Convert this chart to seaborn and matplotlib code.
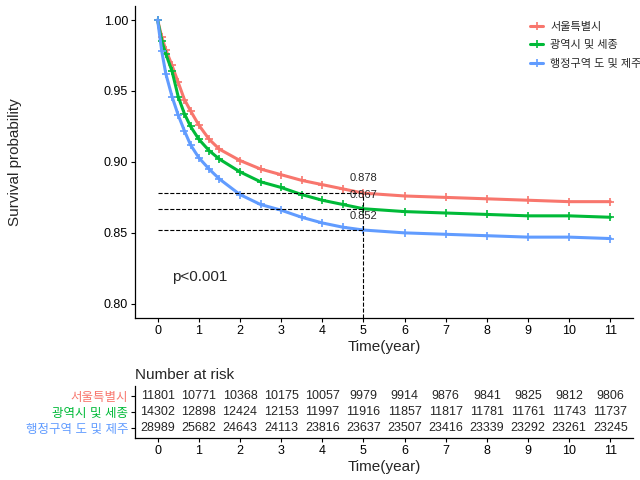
import numpy as np
import pandas as pd
import seaborn as sns
from matplotlib import pyplot as plt

GROUPS = ["서울특별시", "광역시 및 세종", "행정구역 도 및 제주"]
COLORS = ["#F8766D", "#00BA38", "#619CFF"]

# survival curve (time in years)
TIMES = [0, 0.1, 0.2, 0.35, 0.5, 0.65, 0.8, 1, 1.25, 1.5, 2, 2.5, 3, 3.5, 4, 4.5,
         5, 6, 7, 8, 9, 10, 11]
SURV_SEOUL = [1.0, 0.988, 0.979, 0.968, 0.956, 0.944, 0.936, 0.926, 0.916, 0.909,
              0.901, 0.895, 0.891, 0.887, 0.884, 0.881, 0.878, 0.876, 0.875, 0.874,
              0.873, 0.872, 0.872]
SURV_METRO = [1.0, 0.985, 0.976, 0.964, 0.946, 0.934, 0.925, 0.916, 0.908, 0.902,
              0.893, 0.886, 0.882, 0.877, 0.873, 0.870, 0.867, 0.865, 0.864, 0.863,
              0.862, 0.862, 0.861]
SURV_PROV = [1.0, 0.978, 0.962, 0.946, 0.933, 0.922, 0.912, 0.903, 0.895, 0.888,
             0.877, 0.870, 0.866, 0.861, 0.857, 0.854, 0.852, 0.850, 0.849, 0.848,
             0.847, 0.847, 0.846]

FIVE_YEAR = [0.878, 0.867, 0.852]

RISK_TIMES = list(range(12))
RISK_SEOUL = [11801, 10771, 10368, 10175, 10057, 9979, 9914, 9876, 9841, 9825, 9812, 9806]
RISK_METRO = [14302, 12898, 12424, 12153, 11997, 11916, 11857, 11817, 11781, 11761, 11743, 11737]
RISK_PROV = [28989, 25682, 24643, 24113, 23816, 23637, 23507, 23416, 23339, 23292, 23261, 23245]


def style_axis(ax) -> None:
    ax.tick_params(labelsize=9, length=3, width=0.8, colors="black", pad=2)
    for side in ["top", "right"]:
        ax.spines[side].set_visible(False)
    for side in ["left", "bottom"]:
        ax.spines[side].set_color("black")
        ax.spines[side].set_linewidth(0.9)


def main() -> None:
    sns.set_theme(style="ticks")
    plt.rcParams["font.family"] = ["Liberation Sans", "Noto Sans CJK KR"]
    plt.rcParams["axes.unicode_minus"] = False

    curves = pd.concat(
        [
            pd.DataFrame({"time": TIMES, "surv": s, "group": g})
            for g, s in zip(GROUPS, [SURV_SEOUL, SURV_METRO, SURV_PROV])
        ]
    )

    fig = plt.figure(figsize=(6.4, 4.8), dpi=100)
    ax = fig.add_axes([135 / 640, 1 - 318 / 480, 498 / 640, 312 / 480])
    sns.lineplot(
        data=curves, x="time", y="surv", hue="group", hue_order=GROUPS,
        palette=COLORS, linewidth=2.2, marker="+", markersize=5.5,
        markeredgewidth=1.2, ax=ax,
    )
    for line in ax.lines:
        line.set_markeredgecolor(line.get_color())

    for v in FIVE_YEAR:
        ax.plot([0, 5], [v, v], color="black", linestyle="--", linewidth=0.8)
    ax.plot([5, 5], [0.79, FIVE_YEAR[0]], color="black", linestyle="--", linewidth=0.8)
    for v, dy in zip(FIVE_YEAR, [0.0105, 0.0095, 0.0098]):
        ax.text(5, v + dy, f"{v:.3f}", ha="center", va="center", fontsize=8)
    ax.text(0.36, 0.819, "p<0.001", ha="left", va="center", fontsize=11)

    ax.set_xlim(-0.55, 11.55)
    ax.set_ylim(0.79, 1.0099)
    ax.set_xticks(range(12))
    ax.set_yticks(np.arange(0.80, 1.001, 0.05))
    ax.yaxis.set_major_formatter(plt.FormatStrFormatter("%.2f"))
    style_axis(ax)
    ax.set_xlabel("Time(year)", fontsize=11, labelpad=2)
    ax.set_ylabel("Survival probability", fontsize=11)
    ax.yaxis.set_label_coords(-0.226, 0.5)
    leg = ax.legend(
        title=None, frameon=False, fontsize=8, loc="upper left",
        bbox_to_anchor=(530 / 640, 1 - 22 / 480), bbox_transform=fig.transFigure,
        borderpad=0, borderaxespad=0, handlelength=1.2, handletextpad=0.6,
        labelspacing=0.75,
    )
    for handle in leg.legend_handles:
        handle.set_markeredgecolor(handle.get_color())

    # risk table
    ax2 = fig.add_axes([135 / 640, 1 - 438 / 480, 498 / 640, 52 / 480])
    rows = [RISK_SEOUL, RISK_METRO, RISK_PROV]
    for i, counts in enumerate(rows):
        for t, n in zip(RISK_TIMES, counts):
            ax2.text(t, i, str(n), ha="center", va="center", fontsize=9)
    ax2.set_xlim(-0.55, 11.55)
    ax2.set_ylim(2.625, -0.625)
    ax2.set_xticks(range(12))
    ax2.set_yticks(range(3))
    ax2.set_yticklabels(GROUPS)
    style_axis(ax2)
    for label, color in zip(ax2.get_yticklabels(), COLORS):
        label.set_color(color)
    ax2.set_xlabel("Time(year)", fontsize=11, labelpad=2)
    ax2.set_title("Number at risk", loc="left", fontsize=11, pad=5)

    fig.savefig("out.png", dpi=100)
    plt.close(fig)


if __name__ == "__main__":
    main()
